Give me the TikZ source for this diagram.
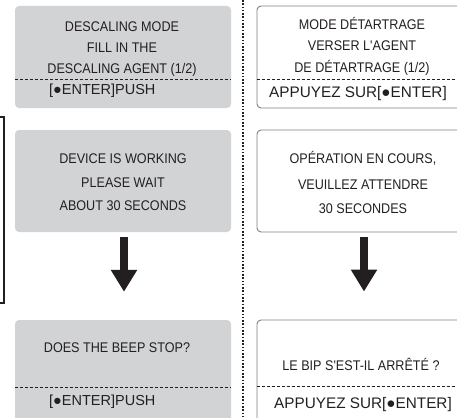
\documentclass[tikz,border=0pt]{standalone}
\usepackage{fontspec}
\newfontfamily\screenfont{Liberation Sans}
\newfontfamily\narrowfont[FakeStretch=0.9]{Liberation Sans}
\usetikzlibrary{arrows.meta}
\definecolor{panelgray}{HTML}{D1D3D4}
\definecolor{inkblack}{HTML}{231F20}
\definecolor{framegray}{HTML}{808080}
\tikzset{
  grayscreen/.style={fill=panelgray, rounded corners=4pt, minimum width=216pt, minimum height=102pt, inner sep=0pt},
  whitescreen/.style={draw=framegray, line width=0.9pt, fill=white, rounded corners=4pt, minimum width=216pt, minimum height=102pt, inner sep=0pt},
  msg/.style={text=inkblack, font=\narrowfont\fontsize{14}{16}\selectfont, anchor=base, inner sep=0pt},
  keyline/.style={text=inkblack, font=\screenfont\fontsize{14.5}{16}\selectfont, anchor=base west, inner sep=0pt},
  keylinefr/.style={keyline, font=\screenfont\fontsize{15.3}{16}\selectfont},
  separator/.style={inkblack, line width=1.3pt, dash pattern=on 3pt off 2pt},
  bigarrow/.style={inkblack, line width=8pt, -{Triangle[width=25pt,length=22pt]}},
}
\begin{document}
\begin{tikzpicture}[x=1pt,y=-1pt]
  \useasboundingbox (0,0) rectangle (457,417);
  % screens, English column
  \node[grayscreen] (descalegb) at (123,57) {};
  \node[grayscreen] (workinggb) at (123,181) {};
  \node[grayscreen] (beepgb) at (123,371) {};
  % screens, French column
  \node[whitescreen] (descalefr) at (365,57) {};
  \node[whitescreen] (workingfr) at (365,181) {};
  \node[whitescreen] (beepfr) at (365,371) {};

  \draw[separator] ([yshift=-74pt]descalegb.north west) -- ([yshift=-74pt]descalegb.north east);
  \draw[separator] ([yshift=-74pt]descalefr.north west) -- ([yshift=-74pt]descalefr.north east);
  \draw[separator] ([yshift=-68pt]beepgb.north west) -- ([yshift=-68pt]beepgb.north east);
  \draw[separator] ([yshift=-67pt]beepfr.north west) -- ([yshift=-67pt]beepfr.north east);

  \node[msg] at (122,31.5) {DESCALING MODE};
  \node[msg] at (122,52.5) {FILL IN THE};
  \node[msg] at (122,74) {DESCALING AGENT (1/2)};
  \node[keyline] at (49,95) {[●ENTER]PUSH};

  \node[msg] at (362,30) {MODE DÉTARTRAGE};
  \node[msg] at (362,51) {VERSER L'AGENT};
  \node[msg] at (362,73) {DE DÉTARTRAGE (1/2)};
  \node[keylinefr] at (269,97.3) {APPUYEZ SUR[●ENTER]};

  \node[msg] at (123,163) {DEVICE IS WORKING};
  \node[msg] at (123,187) {PLEASE WAIT};
  \node[msg] at (123,210) {ABOUT 30 SECONDS};

  \node[msg] at (363,163) {OPÉRATION EN COURS,};
  \node[msg] at (363,189) {VEUILLEZ ATTENDRE};
  \node[msg] at (363,213) {30 SECONDES};

  \node[msg] at (117,352) {DOES THE BEEP STOP?};
  \node[keyline] at (49,405) {[●ENTER]PUSH};
  \node[msg] at (361,370) {LE BIP S'EST-IL ARRÊTÉ ?};
  \node[keylinefr] at (274,408) {APPUYEZ SUR[●ENTER]};

  \draw[bigarrow] ([xshift=1pt,yshift=-5pt]workinggb.south) -- ([xshift=1pt,yshift=28pt]beepgb.north);
  \draw[bigarrow] ([xshift=-1pt,yshift=-5pt]workingfr.south) -- ([xshift=-1pt,yshift=28pt]beepfr.north);

  % column divider and bracket
  \draw[inkblack, line width=1.4pt, dash pattern=on 1.6pt off 1.7pt] (243,0) -- (243,417);
  \draw[inkblack, line width=1.5pt] (-2,117) -- (4,117) -- (4,303) -- (-2,303);
\end{tikzpicture}
\end{document}
